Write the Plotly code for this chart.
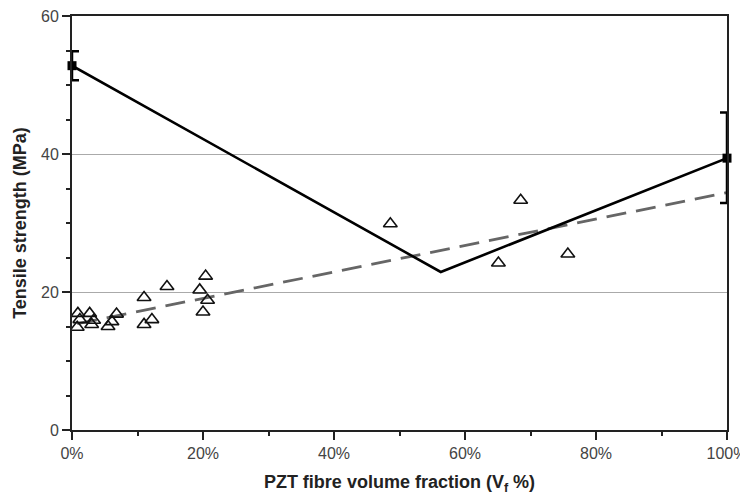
import plotly.graph_objects as go

# Model (solid) line with end-point measurements
model_x = [0.0, 0.563, 1.0]
model_y = [52.8, 22.9, 39.4]

end_x = [0.0, 1.0]
end_y = [52.8, 39.4]
end_err_plus = [2.1, 6.6]
end_err_minus = [2.1, 6.5]

# Measured composites (open triangles)
tri_x = [0.009, 0.008, 0.012, 0.027, 0.033, 0.030, 0.055, 0.061, 0.068,
         0.110, 0.110, 0.122, 0.145, 0.204, 0.195, 0.207, 0.200,
         0.486, 0.651, 0.685, 0.757]
tri_y = [16.9, 14.9, 16.0, 16.9, 15.9, 15.3, 15.0, 15.7, 16.8,
         19.2, 15.3, 16.0, 20.8, 22.3, 20.3, 18.8, 17.1,
         29.9, 24.2, 33.3, 25.5]

# Linear trend (dashed)
trend_x = [0.008, 1.0]
trend_y = [15.4, 34.4]

x_ticks = [0, 0.2, 0.4, 0.6, 0.8, 1.0]
x_tick_text = ["0%", "20%", "40%", "60%", "80%", "100%"]
y_ticks = [0, 20, 40, 60]

fig = go.Figure()

fig.add_trace(go.Scatter(
    x=trend_x, y=trend_y, mode="lines",
    line=dict(color="#666666", width=2.8, dash="20px,10px"),
    hoverinfo="skip", showlegend=False))

fig.add_trace(go.Scatter(
    x=tri_x, y=tri_y, mode="markers",
    marker=dict(symbol="triangle-up-open", size=12, color="#111111",
                line=dict(width=1.6, color="#111111")),
    showlegend=False))

fig.add_trace(go.Scatter(
    x=model_x, y=model_y, mode="lines",
    line=dict(color="#000000", width=2.6),
    cliponaxis=False, showlegend=False))

fig.add_trace(go.Scatter(
    x=end_x, y=end_y, mode="markers",
    marker=dict(symbol="square", size=9, color="#000000"),
    error_y=dict(type="data", symmetric=False, array=end_err_plus,
                 arrayminus=end_err_minus, color="#000000",
                 thickness=2.5, width=7),
    cliponaxis=False, showlegend=False))

font_family = "Liberation Sans, Arial, sans-serif"

fig.update_layout(
    width=740, height=489,
    margin=dict(l=64, r=21, t=8, b=67, autoexpand=False),
    paper_bgcolor="white", plot_bgcolor="white",
    font=dict(family=font_family, color="#333333", size=15),
    xaxis=dict(
        range=[0, 1], tickvals=x_ticks, ticktext=x_tick_text,
        automargin=False, ticklabeloverflow="allow",
        showgrid=False, zeroline=False,
        showline=True, linecolor="#222222", linewidth=2, mirror=True,
        ticks="outside", ticklen=8, tickwidth=2, tickcolor="#222222",
        minor=dict(dtick=0.1, ticks="outside", ticklen=4, tickwidth=1.5,
                   tickcolor="#222222", showgrid=False),
        tickfont=dict(size=16, color="#444444"),
        title=dict(text="<b>PZT fibre volume fraction (V<sub>f</sub> %)</b>",
                   font=dict(size=18, color="#222222"), standoff=14),
    ),
    yaxis=dict(
        range=[0, 60], tickvals=y_ticks,
        automargin=False, ticklabeloverflow="allow",
        showgrid=True, gridcolor="#aaaaaa", gridwidth=1.2, zeroline=False,
        showline=True, linecolor="#222222", linewidth=2, mirror=True,
        ticks="outside", ticklen=8, tickwidth=2, tickcolor="#222222",
        minor=dict(dtick=5, ticks="outside", ticklen=4, tickwidth=1.5,
                   tickcolor="#222222", showgrid=False),
        tickfont=dict(size=16, color="#444444"),
        title=dict(text="<b>Tensile strength (MPa)</b>",
                   font=dict(size=18, color="#222222"), standoff=10),
    ),
)

fig.write_html("out.html")
